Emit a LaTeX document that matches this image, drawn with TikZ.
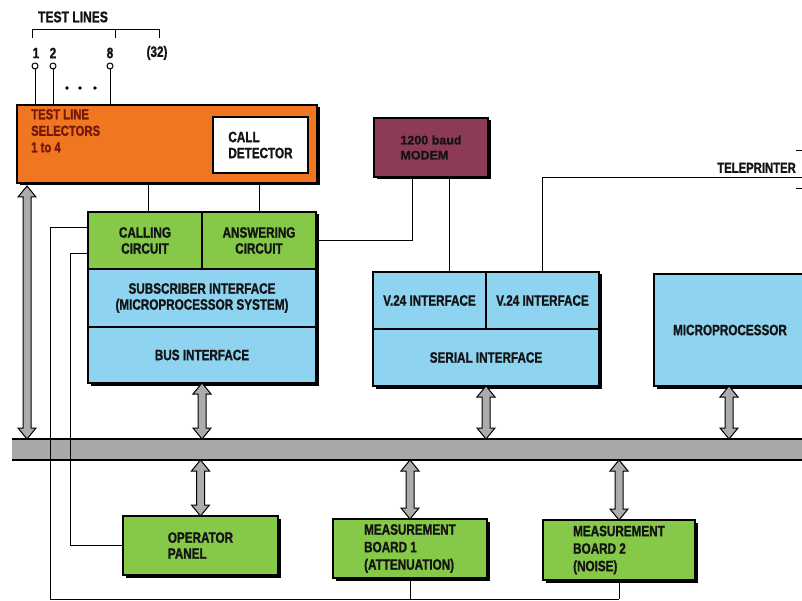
\documentclass[tikz,border=0pt]{standalone}
\usepackage{fontspec}
\setmainfont{Liberation Sans}[FakeStretch=0.78, BoldFeatures={FakeBold=1.2}]
\newfontfamily\widefont{Liberation Sans}[BoldFeatures={FakeBold=1}]
\usetikzlibrary{shadows,calc}
\definecolor{orangeF}{RGB}{240,118,32}
\definecolor{greenF}{RGB}{134,200,72}
\definecolor{blueF}{RGB}{142,212,240}
\definecolor{maroonF}{RGB}{140,58,88}
\definecolor{busgray}{RGB}{168,168,168}
\definecolor{arrowgray}{RGB}{172,172,172}
\definecolor{selred}{RGB}{115,22,12}
\definecolor{ink}{RGB}{20,20,20}
\tikzset{
  box/.style={draw=black, line width=1.2pt, inner sep=0pt, outer sep=0pt,
    anchor=north west, align=center, text=ink,
    font=\bfseries\fontsize{15}{16}\selectfont},
  shad/.style={drop shadow={opacity=1, fill=black, shadow xshift=2.5pt, shadow yshift=-2.5pt}},
  conn/.style={draw=black, line width=1pt},
  busarrow/.style={fill=arrowgray, draw=black, line width=1pt, line join=miter},
  lbl/.style={inner sep=0pt, text=ink, font=\bfseries\fontsize{15}{16}\selectfont},
  term/.style={circle, draw=black, line width=1pt, fill=white, inner sep=0pt, minimum size=6pt},
  dotm/.style={circle, fill=black, inner sep=0pt, minimum size=3.6pt},
}
\newcommand\dblarrow[2]{%
  \draw[busarrow] let \p1=#1, \p2=#2 in
    (\p1) -- ++(9pt,-11pt) -- ++(-5pt,0pt) -- ({\x1+4pt},{\y2+11pt}) -- ++(5pt,0pt)
    -- (\x1,\y2) -- ++(-9pt,11pt) -- ++(5pt,0pt) -- ({\x1-4pt},{\y1-11pt})
    -- ++(-5pt,0pt) -- cycle;}
\begin{document}
\begin{tikzpicture}[x=1pt,y=-1pt]
\useasboundingbox (0,0) rectangle (802,601);
\fill[white] (0,0) rectangle (802,601);

% bus
\node[fill=busgray, inner sep=0pt, outer sep=0pt, anchor=north west,
      minimum width=800pt, minimum height=21pt] (bus) at (12,439) {};
\draw[line width=1.6pt] (bus.north west) -- (bus.north east);
\draw[line width=1.6pt] (bus.south west) -- (bus.south east);

% test lines header
\node[lbl, font=\bfseries\fontsize{15.5}{16}\selectfont] (tl) at (73,17) {TEST LINES};
\draw[conn] (32,38) -- (32,30) -- (159,30) -- (159,38);
\draw[conn] (115,30) -- (115,38);
\node[lbl] (n1) at (36,53) {1};
\node[lbl] (n2) at (53,53) {2};
\node[lbl] (n8) at (110,53) {8};
\node[lbl] (n32) at (157,53) {(32)};
\node[dotm] (d1) at (67,88) {};
\node[dotm] (d2) at (80,88) {};
\node[dotm] (d3) at (95,88) {};

% orange selector box
\node[box, shad, fill=orangeF, minimum width=300pt, minimum height=78pt] (sel) at (17,105) {};
\node[inner sep=0pt, anchor=north west, align=left, text=selred,
      font=\bfseries\fontsize{14.5}{16.5}\selectfont] (selt) at (31,109) {TEST LINE\\SELECTORS\\1 to 4};
\node[box, fill=white, line width=1.6pt, minimum width=95pt, minimum height=56pt, align=left] (cd) at (213,117) {CALL\\DETECTOR};

\node[term] (t1) at (35,66) {};
\node[term] (t2) at (53,66) {};
\node[term] (t8) at (110,66) {};
\draw[conn] (t1.south) -- (t1 |- sel.north);
\draw[conn] (t2.south) -- (t2 |- sel.north);
\draw[conn] (t8.south) -- (t8 |- sel.north);

% modem
\node[box, shad, fill=maroonF, minimum width=114pt, minimum height=59pt, align=left,
      font=\widefont\bfseries\fontsize{12.5}{15}\selectfont] (modem) at (374,118) {1200 baud\\MODEM};

\coordinate (botL) at (50,599);
\coordinate (tp) at (802,178);
\node[lbl, anchor=south east, font=\bfseries\fontsize{14.5}{16}\selectfont] (tpl) at (796,173) {TELEPRINTER};
\draw[conn] (796,151) -- (802,151);
\draw[conn] (796,189) -- (802,189);

% subscriber block
\node[box, shad, fill=greenF, minimum width=114pt, minimum height=57pt] (calling) at (88,212) {CALLING\\CIRCUIT};
\node[box, shad, fill=greenF, minimum width=114pt, minimum height=57pt] (answering) at (202,212) {ANSWERING\\CIRCUIT};
\node[box, shad, fill=blueF, minimum width=228pt, minimum height=58pt] (sub) at (88,269) {SUBSCRIBER INTERFACE\\(MICROPROCESSOR SYSTEM)};
\node[box, shad, fill=blueF, minimum width=228pt, minimum height=56pt] (busif) at (88,327) {BUS INTERFACE};

% serial block
\node[box, shad, fill=blueF, minimum width=113pt, minimum height=57pt] (v24a) at (373,272) {V.24 INTERFACE};
\node[box, shad, fill=blueF, minimum width=113pt, minimum height=57pt] (v24b) at (486,272) {V.24 INTERFACE};
\node[box, shad, fill=blueF, minimum width=226pt, minimum height=57pt] (serial) at (373,329) {SERIAL INTERFACE};

% microprocessor
\node[box, shad, fill=blueF, minimum width=152pt, minimum height=112pt] (micro) at (654,274) {MICROPROCESSOR};

% lower boxes
\node[box, shad, fill=greenF, minimum width=155pt, minimum height=59pt, align=left] (op) at (123,516) {OPERATOR\\PANEL};
\node[box, shad, fill=greenF, minimum width=154pt, minimum height=59pt, align=left,
      font=\bfseries\fontsize{15}{17.5}\selectfont] (mb1) at (333,519) {MEASUREMENT\\BOARD 1\\(ATTENUATION)};
\node[box, shad, fill=greenF, minimum width=152pt, minimum height=60pt, align=left,
      font=\bfseries\fontsize{15}{17.5}\selectfont] (mb2) at (543,520) {MEASUREMENT\\BOARD 2\\(NOISE)};

% connectors
\draw[conn] (answering.north) -- (answering.north |- sel.south);
\draw[conn] (calling.north) ++(3pt,0pt) coordinate (cn) -- (cn |- sel.south);
\draw[conn] (answering.east) -| ([xshift=-19pt]modem.south);
\draw[conn] ([xshift=18pt]modem.south) -- ([xshift=18pt]modem.south |- v24a.north);
\draw[conn] (v24b.north) |- (tp);
\draw[conn] ([yshift=13pt]calling.west) -| (botL) -- (mb2.south |- botL);
\draw[conn] (mb1.south) -- (mb1.south |- botL);
\draw[conn] (mb2.south) -- (mb2.south |- botL);
\draw[conn] ([yshift=-13pt]calling.west) -| (op.west -| 70,0) -- (op.west);

% bus arrows
\coordinate (la) at (27,186);
\coordinate (lb) at (27,439);
\dblarrow{(la)}{(lb)}
\dblarrow{(busif.south)}{(busif.south |- bus.north)}
\dblarrow{(serial.south)}{(serial.south |- bus.north)}
\coordinate (mx) at (729,386);
\dblarrow{(mx)}{(mx |- bus.north)}
\dblarrow{(op.north |- bus.south)}{(op.north)}
\dblarrow{(mb1.north |- bus.south)}{(mb1.north)}
\dblarrow{(mb2.north |- bus.south)}{(mb2.north)}
\end{tikzpicture}
\end{document}
